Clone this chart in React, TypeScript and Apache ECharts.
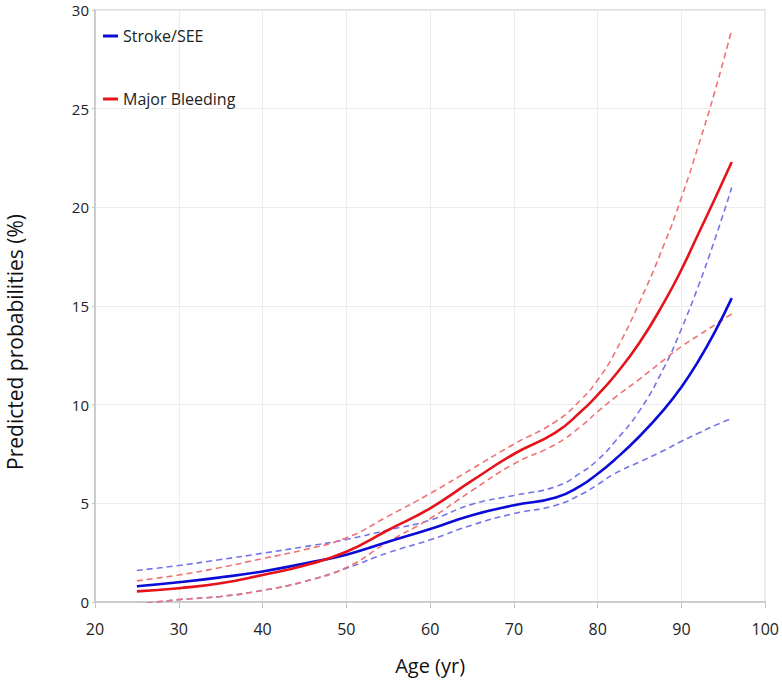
import React, { useEffect, useRef } from "react";
import * as echarts from "echarts";

const ages = [25, 30, 35, 40, 45, 50, 55, 60, 65, 70, 75, 78, 80, 82, 85, 88, 90, 92, 94, 96];

const strokeMid = [0.8, 1.0, 1.25, 1.55, 1.95, 2.4, 3.05, 3.7, 4.4, 4.9, 5.3, 5.9, 6.5, 7.2, 8.4, 9.8, 10.9, 12.2, 13.7, 15.4];
const strokeHi = [1.6, 1.85, 2.15, 2.47, 2.8, 3.17, 3.65, 4.15, 4.95, 5.4, 5.85, 6.55, 7.2, 8.1, 9.7, 11.95, 13.85, 16.0, 18.4, 21.0];
const strokeLo = [-0.15, 0.12, 0.28, 0.59, 1.04, 1.71, 2.5, 3.15, 3.9, 4.48, 4.9, 5.45, 5.95, 6.5, 7.1, 7.7, 8.15, 8.55, 8.95, 9.3];

const bleedMid = [0.54, 0.7, 0.95, 1.37, 1.85, 2.55, 3.65, 4.75, 6.15, 7.5, 8.6, 9.65, 10.5, 11.45, 13.15, 15.25, 16.85, 18.65, 20.45, 22.3];
const bleedHi = [1.07, 1.37, 1.75, 2.2, 2.65, 3.25, 4.35, 5.5, 6.75, 8.0, 9.15, 10.25, 11.25, 12.6, 15.2, 18.2, 20.5, 23.1, 25.9, 29.0];
const bleedLo = [-0.1, 0.12, 0.28, 0.59, 1.04, 1.75, 3.05, 4.23, 5.65, 7.0, 8.0, 8.9, 9.65, 10.35, 11.3, 12.3, 12.95, 13.5, 14.05, 14.6];

const legendNames = ["Stroke/SEE", "Major Bleeding"];
const xTitle = "Age (yr)";
const yTitle = "Predicted probabilities (%)";

const pairs = (arr: number[]) => ages.map((a, i) => [a, arr[i]]);

const BLUE = "#0b0bd6";
const RED = "#e5131a";
const BLUE_D = "#7474e8";
const RED_D = "#ef7373";

export default function App() {
  const ref = useRef<HTMLDivElement>(null);
  useEffect(() => {
    if (!ref.current) return;
    const chart = echarts.init(ref.current, null, { renderer: "svg" });
    const dashed = (name: string, data: number[], color: string) => ({
      name,
      type: "line",
      data: pairs(data),
      smooth: true,
      showSymbol: false,
      symbol: "none",
      clip: true,
      silent: true,
      z: 2,
      lineStyle: { color, width: 1.6, type: [6, 4] },
      itemStyle: { color },
    });
    const solid = (name: string, data: number[], color: string) => ({
      name,
      type: "line",
      data: pairs(data),
      smooth: true,
      showSymbol: false,
      symbol: "none",
      clip: true,
      z: 3,
      lineStyle: { color, width: 2.6 },
      itemStyle: { color },
    });
    chart.setOption({
      animation: false,
      backgroundColor: "#ffffff",
      textStyle: { fontFamily: "Open Sans" },
      grid: {
        left: 95,
        right: 15,
        top: 10,
        bottom: 76,
        show: true,
        borderColor: "#d4d4d4",
        borderWidth: 1.5,
        containLabel: false,
      },
      legend: {
        data: legendNames,
        orient: "vertical",
        left: 98,
        top: 23,
        itemGap: 47,
        itemWidth: 15,
        itemHeight: 3,
        icon: "rect",
        textStyle: { fontFamily: "Open Sans", fontSize: 16, color: "#222" },
      },
      xAxis: {
        type: "value",
        min: 20,
        max: 100,
        interval: 10,
        name: xTitle,
        nameLocation: "middle",
        nameGap: 53,
        nameTextStyle: { fontFamily: "Open Sans", fontSize: 20, color: "#111" },
        axisLine: { show: true, lineStyle: { color: "#c4c4c4", width: 1.5 } },
        axisTick: { show: true, length: 6, lineStyle: { color: "#c4c4c4" } },
        axisLabel: { margin: 19, fontSize: 16, color: "#222", fontFamily: "Open Sans" },
        splitLine: { show: true, lineStyle: { color: "#ececec", width: 1 } },
      },
      yAxis: {
        type: "value",
        min: 0,
        max: 30,
        interval: 5,
        axisLine: { show: true, lineStyle: { color: "#c4c4c4", width: 1.5 } },
        axisTick: { show: true, length: 3, lineStyle: { color: "#c4c4c4" } },
        axisLabel: { margin: 6, fontSize: 15, lineHeight: 12, color: "#222", fontFamily: "Open Sans" },
        splitLine: { show: true, lineStyle: { color: "#ececec", width: 1 } },
      },
      graphic: [
        {
          type: "text",
          x: 15,
          y: 342,
          rotation: Math.PI / 2,
          style: {
            text: yTitle,
            fontFamily: "Open Sans",
            fontSize: 21,
            fill: "#111",
            align: "center",
            verticalAlign: "middle",
          },
        },
      ],
      series: [
        dashed("Stroke/SEE upper", strokeHi, BLUE_D),
        dashed("Stroke/SEE lower", strokeLo, BLUE_D),
        dashed("Major Bleeding upper", bleedHi, RED_D),
        dashed("Major Bleeding lower", bleedLo, RED_D),
        solid("Stroke/SEE", strokeMid, BLUE),
        solid("Major Bleeding", bleedMid, RED),
      ],
    });
    return () => chart.dispose();
  }, []);
  return (
    <div
      ref={ref}
      style={{ position: "absolute", left: 0, top: 0, width: 782, height: 680 }}
    />
  );
}
